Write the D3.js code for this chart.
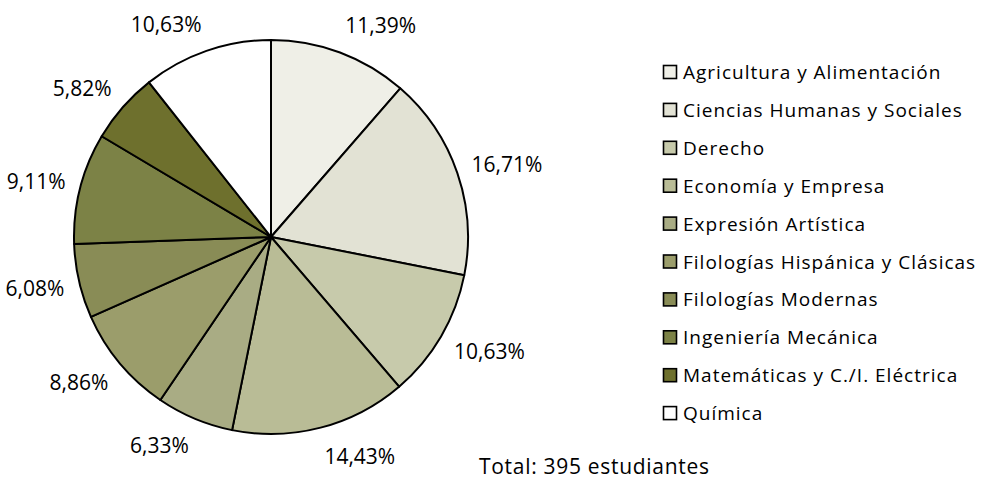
<!DOCTYPE html>
<html>
<head>
<meta charset="utf-8">
<script src="https://cdn.jsdelivr.net/npm/d3@7"></script>
<style>
  body { margin: 0; background: #fff; }
  svg text { font-family: "Open Sans", sans-serif; fill: #000; }
</style>
</head>
<body>
<svg id="pie_chart" width="981" height="479"></svg>
<script>
// datos: estudiantes por titulacion (total 395)
const categories = [
  'Agricultura y Alimentación',
  'Ciencias Humanas y Sociales',
  'Derecho',
  'Economía y Empresa',
  'Expresión Artística',
  'Filologías Hispánica y Clásicas',
  'Filologías Modernas',
  'Ingeniería Mecánica',
  'Matemáticas y C./I. Eléctrica',
  'Química'
];
const students = [45, 66, 42, 57, 25, 35, 24, 36, 23, 42];
const totalLabel = 'Total: 395 estudiantes';

const colors = ['#efefe7', '#e2e2d4', '#c7caab', '#b9bc96', '#a9ac84',
                '#9b9d6b', '#898c56', '#7c8246', '#6e702d', '#ffffff'];

const cx = 271, cy = 237;
const radius = 197;

const svg = d3.select('#pie_chart');

const color = d3.scaleOrdinal().domain(categories).range(colors);

const dataset = categories.map((c, i) => ({ label: c, count: students[i] }));
const total = d3.sum(dataset, d => d.count);

const pie = d3.pie()
  .value(d => d.count)
  .sort(null);

const arc = d3.arc()
  .innerRadius(0)
  .outerRadius(radius);

const g = svg.append('g')
  .attr('transform', `translate(${cx}, ${cy})`);

const slices = pie(dataset);

g.selectAll('path')
  .data(slices)
  .enter()
  .append('path')
  .attr('d', arc)
  .attr('fill', d => color(d.data.label))
  .attr('stroke', '#000')
  .attr('stroke-width', 2)
  .attr('stroke-linejoin', 'round');

// etiquetas de porcentaje fuera del circulo
const fmt = v => (v * 100).toFixed(2).replace('.', ',') + '%';
const labelR = radius + 15;

g.selectAll('text.pct')
  .data(slices)
  .enter()
  .append('text')
  .attr('class', 'pct')
  .attr('x', d => {
    const a = (d.startAngle + d.endAngle) / 2;
    return labelR * Math.sin(a);
  })
  .attr('y', d => {
    const a = (d.startAngle + d.endAngle) / 2;
    return -labelR * Math.cos(a) - 14 * Math.cos(a);
  })
  .attr('text-anchor', d => Math.sin((d.startAngle + d.endAngle) / 2) >= 0 ? 'start' : 'end')
  .attr('dominant-baseline', 'central')
  .style('font-size', '21px')
  .text(d => fmt(d.data.count / total));

// leyenda
const legend = svg.append('g')
  .attr('transform', 'translate(663, 72)');

const row = legend.selectAll('g')
  .data(categories)
  .enter()
  .append('g')
  .attr('transform', (d, i) => `translate(0, ${i * 37.9})`);

row.append('rect')
  .attr('x', 0.5)
  .attr('y', -6.5)
  .attr('width', 13)
  .attr('height', 13)
  .attr('fill', d => color(d))
  .attr('stroke', '#000')
  .attr('stroke-width', 1.6);

row.append('text')
  .attr('x', 20)
  .attr('y', 0)
  .attr('dominant-baseline', 'central')
  .style('font-size', '19px')
  .style('letter-spacing', '1px')
  .text(d => d);

svg.append('text')
  .attr('x', 479)
  .attr('y', 474)
  .style('font-size', '21px')
  .style('letter-spacing', '0.7px')
  .text(totalLabel);
</script>
</body>
</html>
